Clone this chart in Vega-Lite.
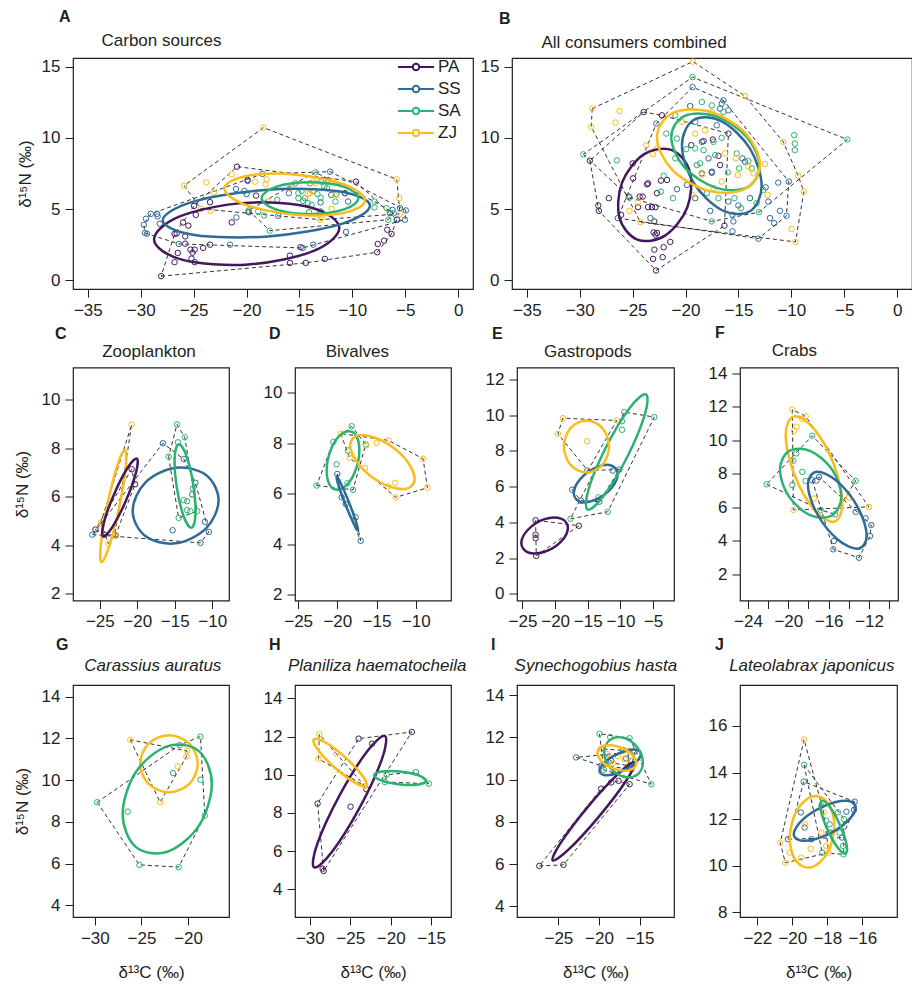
{
"$schema":"https://vega.github.io/schema/vega-lite/v6.json",
"padding":{"left":12,"top":8,"right":0,"bottom":0},
"datasets":{
"pts":[
{"p":"A","s":"PA","x":-28.07,"y":0.3},{"p":"A","s":"PA","x":-26.8,"y":1.28},{"p":"A","s":"PA","x":-26.5,"y":1.93},{"p":"A","s":"PA","x":-26.8,"y":3.26},{"p":"A","s":"PA","x":-26.6,"y":3.3},{"p":"A","s":"PA","x":-26,"y":4.07},{"p":"A","s":"PA","x":-25.5,"y":3.84},{"p":"A","s":"PA","x":-25.8,"y":3.09},{"p":"A","s":"PA","x":-25.8,"y":2.58},{"p":"A","s":"PA","x":-25.3,"y":2.16},{"p":"A","s":"PA","x":-25.1,"y":1.95},{"p":"A","s":"PA","x":-24.9,"y":2.16},{"p":"A","s":"PA","x":-25.2,"y":1.53},{"p":"A","s":"PA","x":-24.9,"y":1.28},{"p":"A","s":"PA","x":-24.96,"y":5.23},{"p":"A","s":"PA","x":-24.8,"y":4.6},{"p":"A","s":"PA","x":-24.1,"y":2.28},{"p":"A","s":"PA","x":-23.45,"y":5.49},{"p":"A","s":"PA","x":-23.45,"y":2.51},{"p":"A","s":"PA","x":-21.4,"y":4.07},{"p":"A","s":"PA","x":-20.9,"y":7.98},{"p":"A","s":"PA","x":-19.9,"y":7.05},{"p":"A","s":"PA","x":-19.8,"y":4.79},{"p":"A","s":"PA","x":-19.1,"y":5.95},{"p":"A","s":"PA","x":-15.9,"y":1.74},{"p":"A","s":"PA","x":-15.9,"y":1.23},{"p":"A","s":"PA","x":-14.9,"y":2.33},{"p":"A","s":"PA","x":-14.4,"y":1.23},{"p":"A","s":"PA","x":-12.6,"y":1.51},{"p":"A","s":"PA","x":-10.7,"y":6.12},{"p":"A","s":"PA","x":-9.66,"y":6.93},{"p":"A","s":"PA","x":-7.65,"y":1.98},{"p":"A","s":"PA","x":-7.6,"y":2.56},{"p":"A","s":"PA","x":-7,"y":2.79},{"p":"A","s":"PA","x":-6.7,"y":3.56},{"p":"A","s":"PA","x":-6.3,"y":3.26},{"p":"A","s":"PA","x":-5.8,"y":4.26},
{"p":"A","s":"SS","x":-29.7,"y":3.9},{"p":"A","s":"SS","x":-29.5,"y":4.33},{"p":"A","s":"SS","x":-29.6,"y":3.33},{"p":"A","s":"SS","x":-29.4,"y":3.28},{"p":"A","s":"SS","x":-29.05,"y":4.67},{"p":"A","s":"SS","x":-28.45,"y":4.67},{"p":"A","s":"SS","x":-28.4,"y":4.49},{"p":"A","s":"SS","x":-28.2,"y":3.98},{"p":"A","s":"SS","x":-26.4,"y":2.56},{"p":"A","s":"SS","x":-21.56,"y":2.51},{"p":"A","s":"SS","x":-20.96,"y":4.42},{"p":"A","s":"SS","x":-21,"y":6.42},{"p":"A","s":"SS","x":-20.2,"y":6.28},{"p":"A","s":"SS","x":-20,"y":6.05},{"p":"A","s":"SS","x":-19.9,"y":6.98},{"p":"A","s":"SS","x":-18.5,"y":7.47},{"p":"A","s":"SS","x":-17,"y":4.53},{"p":"A","s":"SS","x":-16,"y":6.12},{"p":"A","s":"SS","x":-14.7,"y":2.28},{"p":"A","s":"SS","x":-13.7,"y":2.51},{"p":"A","s":"SS","x":-13,"y":4.84},{"p":"A","s":"SS","x":-13,"y":5.47},{"p":"A","s":"SS","x":-12.1,"y":7.63},{"p":"A","s":"SS","x":-12,"y":6},{"p":"A","s":"SS","x":-10.6,"y":3.4},{"p":"A","s":"SS","x":-10.4,"y":5.53},{"p":"A","s":"SS","x":-6.45,"y":4.72},{"p":"A","s":"SS","x":-6.2,"y":4.95},{"p":"A","s":"SS","x":-5.76,"y":4.26},{"p":"A","s":"SS","x":-5.5,"y":5.07},{"p":"A","s":"SS","x":-4.94,"y":4.91},{"p":"A","s":"SS","x":-5.03,"y":4.26},
{"p":"A","s":"SA","x":-19.8,"y":4.91},{"p":"A","s":"SA","x":-18.9,"y":4.84},{"p":"A","s":"SA","x":-18.35,"y":4.56},{"p":"A","s":"SA","x":-17.8,"y":3.49},{"p":"A","s":"SA","x":-17.1,"y":5.65},{"p":"A","s":"SA","x":-15.4,"y":6.81},{"p":"A","s":"SA","x":-15.1,"y":5.77},{"p":"A","s":"SA","x":-15.1,"y":6.12},{"p":"A","s":"SA","x":-14.8,"y":6.28},{"p":"A","s":"SA","x":-14.65,"y":5.58},{"p":"A","s":"SA","x":-14.5,"y":5.77},{"p":"A","s":"SA","x":-14.2,"y":5.42},{"p":"A","s":"SA","x":-14.1,"y":4.79},{"p":"A","s":"SA","x":-14,"y":6.81},{"p":"A","s":"SA","x":-13.85,"y":5.3},{"p":"A","s":"SA","x":-13.7,"y":6.28},{"p":"A","s":"SA","x":-13.5,"y":7.58},{"p":"A","s":"SA","x":-13.3,"y":6.05},{"p":"A","s":"SA","x":-13,"y":5.81},{"p":"A","s":"SA","x":-12.95,"y":6.93},{"p":"A","s":"SA","x":-12.65,"y":6.58},{"p":"A","s":"SA","x":-12.4,"y":6.47},{"p":"A","s":"SA","x":-12.3,"y":7.05},{"p":"A","s":"SA","x":-11.6,"y":5.53},{"p":"A","s":"SA","x":-11.5,"y":6.05},{"p":"A","s":"SA","x":-7.9,"y":5.53},{"p":"A","s":"SA","x":-7.9,"y":5.12},{"p":"A","s":"SA","x":-6.77,"y":5.07},{"p":"A","s":"SA","x":-6.6,"y":4.26},{"p":"A","s":"SA","x":-6.1,"y":4.72},
{"p":"A","s":"ZJ","x":-25.9,"y":6.65},{"p":"A","s":"ZJ","x":-24.3,"y":5.02},{"p":"A","s":"ZJ","x":-23.8,"y":6.88},{"p":"A","s":"ZJ","x":-23.4,"y":4.88},{"p":"A","s":"ZJ","x":-23.1,"y":6.16},{"p":"A","s":"ZJ","x":-21.4,"y":7.44},{"p":"A","s":"ZJ","x":-19.2,"y":6.93},{"p":"A","s":"ZJ","x":-18.4,"y":10.72},{"p":"A","s":"ZJ","x":-18.2,"y":6.74},{"p":"A","s":"ZJ","x":-18.1,"y":7.09},{"p":"A","s":"ZJ","x":-18,"y":5.53},{"p":"A","s":"ZJ","x":-15.9,"y":6.51},{"p":"A","s":"ZJ","x":-14.2,"y":6.05},{"p":"A","s":"ZJ","x":-14,"y":6.12},{"p":"A","s":"ZJ","x":-13.7,"y":6.93},{"p":"A","s":"ZJ","x":-13.5,"y":6.81},{"p":"A","s":"ZJ","x":-13.06,"y":4.26},{"p":"A","s":"ZJ","x":-12.9,"y":4.37},{"p":"A","s":"ZJ","x":-11.96,"y":5.02},{"p":"A","s":"ZJ","x":-11.96,"y":6.98},{"p":"A","s":"ZJ","x":-11.6,"y":5.95},{"p":"A","s":"ZJ","x":-5.8,"y":7.09},{"p":"A","s":"ZJ","x":-5.57,"y":5.77},{"p":"A","s":"ZJ","x":-5.5,"y":4.67},
{"p":"B","s":"PA","x":-29.04,"y":8.4},{"p":"B","s":"PA","x":-28.25,"y":5.26},{"p":"B","s":"PA","x":-28.19,"y":4.88},{"p":"B","s":"PA","x":-27.25,"y":5.77},{"p":"B","s":"PA","x":-26.09,"y":4.6},{"p":"B","s":"PA","x":-25.36,"y":5.88},{"p":"B","s":"PA","x":-24.99,"y":8.21},{"p":"B","s":"PA","x":-24.96,"y":7.16},{"p":"B","s":"PA","x":-24.49,"y":5.14},{"p":"B","s":"PA","x":-24.33,"y":5.88},{"p":"B","s":"PA","x":-24.05,"y":5.88},{"p":"B","s":"PA","x":-23.95,"y":11.81},{"p":"B","s":"PA","x":-23.64,"y":6.74},{"p":"B","s":"PA","x":-23.54,"y":6.81},{"p":"B","s":"PA","x":-23.54,"y":5.14},{"p":"B","s":"PA","x":-23.17,"y":5.14},{"p":"B","s":"PA","x":-22.85,"y":5.14},{"p":"B","s":"PA","x":-22.95,"y":4.14},{"p":"B","s":"PA","x":-23.01,"y":3.37},{"p":"B","s":"PA","x":-22.85,"y":3.21},{"p":"B","s":"PA","x":-22.7,"y":3.33},{"p":"B","s":"PA","x":-22.95,"y":2.16},{"p":"B","s":"PA","x":-23.07,"y":1.51},{"p":"B","s":"PA","x":-22.79,"y":0.7},{"p":"B","s":"PA","x":-22.16,"y":1.63},{"p":"B","s":"PA","x":-22.07,"y":2.33},{"p":"B","s":"PA","x":-21.44,"y":2.7},{"p":"B","s":"PA","x":-22.7,"y":6.12},{"p":"B","s":"PA","x":-22.32,"y":7},{"p":"B","s":"PA","x":-22.23,"y":11.58},{"p":"B","s":"PA","x":-21.75,"y":7.05},{"p":"B","s":"PA","x":-19.46,"y":9.49},{"p":"B","s":"PA","x":-18.3,"y":9.77},{"p":"B","s":"PA","x":-17.42,"y":9.88},{"p":"B","s":"PA","x":-15.95,"y":10.3},{"p":"B","s":"PA","x":-16.32,"y":3.84},{"p":"B","s":"PA","x":-17.52,"y":7.56},{"p":"B","s":"PA","x":-16.73,"y":8.09},{"p":"B","s":"PA","x":-16.89,"y":8.74},
{"p":"B","s":"SS","x":-26.4,"y":4.37},{"p":"B","s":"SS","x":-22.76,"y":11},{"p":"B","s":"SS","x":-23.32,"y":4.37},{"p":"B","s":"SS","x":-20.81,"y":6.4},{"p":"B","s":"SS","x":-19.87,"y":6.7},{"p":"B","s":"SS","x":-19.34,"y":13.56},{"p":"B","s":"SS","x":-19.56,"y":12.23},{"p":"B","s":"SS","x":-19.09,"y":5.77},{"p":"B","s":"SS","x":-18.46,"y":9.72},{"p":"B","s":"SS","x":-17.67,"y":4.88},{"p":"B","s":"SS","x":-17.52,"y":7.63},{"p":"B","s":"SS","x":-17.05,"y":10.88},{"p":"B","s":"SS","x":-16.73,"y":12.05},{"p":"B","s":"SS","x":-16.42,"y":12.63},{"p":"B","s":"SS","x":-16.58,"y":12.4},{"p":"B","s":"SS","x":-15.95,"y":11.93},{"p":"B","s":"SS","x":-15.57,"y":4.6},{"p":"B","s":"SS","x":-15.48,"y":4.14},{"p":"B","s":"SS","x":-15.57,"y":3.44},{"p":"B","s":"SS","x":-15.01,"y":5.26},{"p":"B","s":"SS","x":-14.63,"y":8.56},{"p":"B","s":"SS","x":-14.38,"y":8.33},{"p":"B","s":"SS","x":-13.91,"y":5.77},{"p":"B","s":"SS","x":-13.12,"y":2.93},{"p":"B","s":"SS","x":-12.43,"y":6.53},{"p":"B","s":"SS","x":-12.18,"y":5.53},{"p":"B","s":"SS","x":-12.02,"y":4.37},{"p":"B","s":"SS","x":-11.62,"y":4.02},{"p":"B","s":"SS","x":-11.24,"y":6.86},{"p":"B","s":"SS","x":-11.08,"y":4.88},{"p":"B","s":"SS","x":-10.46,"y":4.53},{"p":"B","s":"SS","x":-10.24,"y":6.93},{"p":"B","s":"SS","x":-15.95,"y":5.53},{"p":"B","s":"SS","x":-17.83,"y":8.56},{"p":"B","s":"SS","x":-18.46,"y":7.51},
{"p":"B","s":"SA","x":-29.66,"y":8.84},{"p":"B","s":"SA","x":-26.49,"y":8.42},{"p":"B","s":"SA","x":-25.27,"y":5.81},{"p":"B","s":"SA","x":-22.32,"y":6.23},{"p":"B","s":"SA","x":-22.07,"y":7.35},{"p":"B","s":"SA","x":-21.82,"y":10.3},{"p":"B","s":"SA","x":-21.19,"y":5.77},{"p":"B","s":"SA","x":-20.97,"y":11.58},{"p":"B","s":"SA","x":-20.81,"y":9.95},{"p":"B","s":"SA","x":-19.93,"y":9.21},{"p":"B","s":"SA","x":-19.34,"y":14.26},{"p":"B","s":"SA","x":-19.09,"y":9.26},{"p":"B","s":"SA","x":-18.93,"y":8.09},{"p":"B","s":"SA","x":-18.62,"y":8.21},{"p":"B","s":"SA","x":-18.46,"y":12.51},{"p":"B","s":"SA","x":-18.3,"y":9.14},{"p":"B","s":"SA","x":-17.99,"y":6.12},{"p":"B","s":"SA","x":-17.52,"y":4.14},{"p":"B","s":"SA","x":-17.36,"y":9.72},{"p":"B","s":"SA","x":-17.2,"y":8.79},{"p":"B","s":"SA","x":-16.89,"y":5.77},{"p":"B","s":"SA","x":-16.58,"y":10},{"p":"B","s":"SA","x":-16.01,"y":7.58},{"p":"B","s":"SA","x":-15.38,"y":5.77},{"p":"B","s":"SA","x":-15.16,"y":8.91},{"p":"B","s":"SA","x":-14.94,"y":7.86},{"p":"B","s":"SA","x":-14.75,"y":5.07},{"p":"B","s":"SA","x":-14.06,"y":8.37},{"p":"B","s":"SA","x":-13.75,"y":7.86},{"p":"B","s":"SA","x":-13.28,"y":5.42},{"p":"B","s":"SA","x":-13.06,"y":4.79},{"p":"B","s":"SA","x":-12.65,"y":6.35},{"p":"B","s":"SA","x":-9.73,"y":10.19},{"p":"B","s":"SA","x":-9.67,"y":9.6},{"p":"B","s":"SA","x":-9.67,"y":9.14},{"p":"B","s":"SA","x":-4.71,"y":9.88},{"p":"B","s":"SA","x":-19.09,"y":11.12},{"p":"B","s":"SA","x":-17.52,"y":12.28},{"p":"B","s":"SA","x":-16.42,"y":11.81},{"p":"B","s":"SA","x":-20.97,"y":8.56},
{"p":"B","s":"ZJ","x":-28.82,"y":12.05},{"p":"B","s":"ZJ","x":-28.91,"y":10.77},{"p":"B","s":"ZJ","x":-26.62,"y":11.07},{"p":"B","s":"ZJ","x":-26.24,"y":11.88},{"p":"B","s":"ZJ","x":-25.3,"y":4.88},{"p":"B","s":"ZJ","x":-24.52,"y":5.47},{"p":"B","s":"ZJ","x":-24.27,"y":4.09},{"p":"B","s":"ZJ","x":-23.7,"y":9.49},{"p":"B","s":"ZJ","x":-23.07,"y":8.86},{"p":"B","s":"ZJ","x":-22.7,"y":9.26},{"p":"B","s":"ZJ","x":-19.31,"y":15.35},{"p":"B","s":"ZJ","x":-19.34,"y":6},{"p":"B","s":"ZJ","x":-18.46,"y":7.4},{"p":"B","s":"ZJ","x":-19.09,"y":10.3},{"p":"B","s":"ZJ","x":-18.15,"y":10.53},{"p":"B","s":"ZJ","x":-17.36,"y":6.47},{"p":"B","s":"ZJ","x":-16.58,"y":6.93},{"p":"B","s":"ZJ","x":-15.26,"y":8.56},{"p":"B","s":"ZJ","x":-15.07,"y":7.4},{"p":"B","s":"ZJ","x":-14.38,"y":12.93},{"p":"B","s":"ZJ","x":-14.06,"y":7.98},{"p":"B","s":"ZJ","x":-13.59,"y":7.51},{"p":"B","s":"ZJ","x":-12.5,"y":8.16},{"p":"B","s":"ZJ","x":-12.24,"y":6},{"p":"B","s":"ZJ","x":-10.77,"y":9.72},{"p":"B","s":"ZJ","x":-9.98,"y":3.6},{"p":"B","s":"ZJ","x":-9.61,"y":2.7},{"p":"B","s":"ZJ","x":-9.36,"y":7.35},{"p":"B","s":"ZJ","x":-8.82,"y":6.23},{"p":"B","s":"ZJ","x":-16.26,"y":8.91},{"p":"B","s":"ZJ","x":-20.34,"y":11.12},{"p":"B","s":"ZJ","x":-17.52,"y":11.81},
{"p":"C","s":"PA","x":-25.58,"y":4.65},{"p":"C","s":"PA","x":-24.42,"y":4.44},{"p":"C","s":"PA","x":-22.9,"y":4.41},{"p":"C","s":"PA","x":-20.75,"y":7.14},{"p":"C","s":"PA","x":-20.3,"y":6.52},
{"p":"C","s":"SS","x":-25.99,"y":4.44},{"p":"C","s":"SS","x":-16.58,"y":8.21},{"p":"C","s":"SS","x":-13.8,"y":7.56},{"p":"C","s":"SS","x":-12.68,"y":6.1},{"p":"C","s":"SS","x":-12.24,"y":6.58},{"p":"C","s":"SS","x":-11.57,"y":4.1},{"p":"C","s":"SS","x":-10.98,"y":4.97},{"p":"C","s":"SS","x":-10.45,"y":4.55},{"p":"C","s":"SS","x":-15.28,"y":4.62},
{"p":"C","s":"SA","x":-14.7,"y":8.99},{"p":"C","s":"SA","x":-13.67,"y":8.46},{"p":"C","s":"SA","x":-15.82,"y":7.66},{"p":"C","s":"SA","x":-14.57,"y":8.25},{"p":"C","s":"SA","x":-14.48,"y":5.13},{"p":"C","s":"SA","x":-13.8,"y":5.86},{"p":"C","s":"SA","x":-13.36,"y":5.82},{"p":"C","s":"SA","x":-13.36,"y":5.45},{"p":"C","s":"SA","x":-12.91,"y":5.41},{"p":"C","s":"SA","x":-12.6,"y":6.34},{"p":"C","s":"SA","x":-12.01,"y":5.41},
{"p":"C","s":"ZJ","x":-20.75,"y":8.99},{"p":"C","s":"ZJ","x":-24.87,"y":4.94},{"p":"C","s":"ZJ","x":-23.88,"y":4.07},{"p":"C","s":"ZJ","x":-22.98,"y":4.44},
{"p":"D","s":"SS","x":-20,"y":6.78},{"p":"D","s":"SS","x":-19.45,"y":5.85},{"p":"D","s":"SS","x":-18.94,"y":5.59},{"p":"D","s":"SS","x":-17.66,"y":5.06},{"p":"D","s":"SS","x":-17.02,"y":4.13},
{"p":"D","s":"SA","x":-22.64,"y":6.32},{"p":"D","s":"SA","x":-20.51,"y":8.05},{"p":"D","s":"SA","x":-20.09,"y":7.16},{"p":"D","s":"SA","x":-18.64,"y":7.71},{"p":"D","s":"SA","x":-18.17,"y":8.67},{"p":"D","s":"SA","x":-18,"y":6.15},{"p":"D","s":"SA","x":-18.72,"y":6.41},{"p":"D","s":"SA","x":-16.38,"y":7.95},
{"p":"D","s":"ZJ","x":-19.57,"y":8.38},{"p":"D","s":"ZJ","x":-18.43,"y":7.42},{"p":"D","s":"ZJ","x":-16.3,"y":7.91},{"p":"D","s":"ZJ","x":-16.47,"y":7.02},{"p":"D","s":"ZJ","x":-14.98,"y":8.01},{"p":"D","s":"ZJ","x":-13.49,"y":8.11},{"p":"D","s":"ZJ","x":-12.64,"y":6.43},{"p":"D","s":"ZJ","x":-13.53,"y":6.28},{"p":"D","s":"ZJ","x":-12.55,"y":5.85},{"p":"D","s":"ZJ","x":-9.06,"y":7.38},{"p":"D","s":"ZJ","x":-8.51,"y":6.23},
{"p":"E","s":"PA","x":-22.99,"y":4.12},{"p":"E","s":"PA","x":-22.99,"y":3.3},{"p":"E","s":"PA","x":-22.99,"y":3.11},{"p":"E","s":"PA","x":-22.89,"y":2.12},{"p":"E","s":"PA","x":-16.37,"y":3.81},
{"p":"E","s":"SS","x":-17.39,"y":5.83},{"p":"E","s":"SS","x":-16.02,"y":5.21},{"p":"E","s":"SS","x":-13.22,"y":5.16},{"p":"E","s":"SS","x":-11.18,"y":6.9},{"p":"E","s":"SS","x":-10.17,"y":6.96},{"p":"E","s":"SS","x":-15.1,"y":6.9},
{"p":"E","s":"SA","x":-17.65,"y":4.2},{"p":"E","s":"SA","x":-11.95,"y":4.59},{"p":"E","s":"SA","x":-9.76,"y":9.67},{"p":"E","s":"SA","x":-9.76,"y":9.19},{"p":"E","s":"SA","x":-9.4,"y":10.18},{"p":"E","s":"SA","x":-4.82,"y":9.9},{"p":"E","s":"SA","x":-13.37,"y":5.4},
{"p":"E","s":"ZJ","x":-18.82,"y":9.84},{"p":"E","s":"ZJ","x":-19.58,"y":8.96},{"p":"E","s":"ZJ","x":-15.1,"y":8.55},{"p":"E","s":"ZJ","x":-15,"y":6.9},{"p":"E","s":"ZJ","x":-10.57,"y":9.71},
{"p":"F","s":"SS","x":-17.62,"y":7.62},{"p":"F","s":"SS","x":-16.96,"y":7.82},{"p":"F","s":"SS","x":-15.54,"y":3.5},{"p":"F","s":"SS","x":-15.47,"y":4},{"p":"F","s":"SS","x":-12.99,"y":3},{"p":"F","s":"SS","x":-13.32,"y":5.73},{"p":"F","s":"SS","x":-12.33,"y":5.35},{"p":"F","s":"SS","x":-11.77,"y":4.95},{"p":"F","s":"SS","x":-11.9,"y":4.29},{"p":"F","s":"SS","x":-17.2,"y":7.6},
{"p":"F","s":"SA","x":-22.15,"y":7.38},{"p":"F","s":"SA","x":-19.6,"y":7.34},{"p":"F","s":"SA","x":-19.5,"y":8.78},{"p":"F","s":"SA","x":-19.21,"y":9.22},{"p":"F","s":"SA","x":-18.61,"y":8.12},{"p":"F","s":"SA","x":-18.28,"y":7.58},{"p":"F","s":"SA","x":-17.62,"y":10.27},{"p":"F","s":"SA","x":-16.79,"y":5.85},{"p":"F","s":"SA","x":-15.37,"y":5.59},{"p":"F","s":"SA","x":-13.32,"y":7.58},
{"p":"F","s":"ZJ","x":-19.6,"y":11.83},{"p":"F","s":"ZJ","x":-19.44,"y":10.57},{"p":"F","s":"ZJ","x":-19.17,"y":10.81},{"p":"F","s":"ZJ","x":-18.61,"y":11.27},{"p":"F","s":"ZJ","x":-18.28,"y":11.43},{"p":"F","s":"ZJ","x":-19.5,"y":5.85},{"p":"F","s":"ZJ","x":-17.45,"y":6.53},{"p":"F","s":"ZJ","x":-13.98,"y":6.59},{"p":"F","s":"ZJ","x":-12,"y":6.03},
{"p":"G","s":"SA","x":-29.75,"y":8.94},{"p":"G","s":"SA","x":-26.47,"y":8.49},{"p":"G","s":"SA","x":-25.22,"y":5.94},{"p":"G","s":"SA","x":-21.01,"y":5.83},{"p":"G","s":"SA","x":-21.62,"y":10.34},{"p":"G","s":"SA","x":-20.9,"y":11.68},{"p":"G","s":"SA","x":-18.67,"y":12.09},{"p":"G","s":"SA","x":-18.67,"y":10.02},{"p":"G","s":"SA","x":-18.2,"y":8.3},
{"p":"G","s":"ZJ","x":-26.19,"y":11.93},{"p":"G","s":"ZJ","x":-22.99,"y":8.94},{"p":"G","s":"ZJ","x":-21.12,"y":10.66},{"p":"G","s":"ZJ","x":-20.18,"y":11.12},{"p":"G","s":"ZJ","x":-20.11,"y":11.4},
{"p":"H","s":"PA","x":-29.04,"y":8.49},{"p":"H","s":"PA","x":-28.42,"y":5.08},{"p":"H","s":"PA","x":-28.29,"y":4.96},{"p":"H","s":"PA","x":-24.96,"y":8.33},{"p":"H","s":"PA","x":-23.96,"y":11.89},{"p":"H","s":"PA","x":-22.29,"y":11.63},{"p":"H","s":"PA","x":-23,"y":9.24},{"p":"H","s":"PA","x":-17.38,"y":12.24},
{"p":"H","s":"ZJ","x":-28.83,"y":12.12},{"p":"H","s":"ZJ","x":-28.92,"y":10.84},{"p":"H","s":"ZJ","x":-26.75,"y":11.12},{"p":"H","s":"ZJ","x":-23.2,"y":9.41},
{"p":"H","s":"SA","x":-20.71,"y":9.62},{"p":"H","s":"SA","x":-16.88,"y":10.14},{"p":"H","s":"SA","x":-15.29,"y":9.53},{"p":"H","s":"SA","x":-20.5,"y":10},
{"p":"I","s":"PA","x":-27.35,"y":5.91},{"p":"I","s":"PA","x":-24.38,"y":5.96},{"p":"I","s":"PA","x":-19.73,"y":9.57},{"p":"I","s":"PA","x":-18.5,"y":9.86},{"p":"I","s":"PA","x":-17.59,"y":9.94},{"p":"I","s":"PA","x":-16.23,"y":9.78},
{"p":"I","s":"SS","x":-22.82,"y":11.05},{"p":"I","s":"SS","x":-19.73,"y":10.66},{"p":"I","s":"SS","x":-18.5,"y":10.89},{"p":"I","s":"SS","x":-16.65,"y":11},{"p":"I","s":"SS","x":-15.62,"y":11.32},{"p":"I","s":"SS","x":-16.03,"y":10.5},
{"p":"I","s":"SA","x":-19.94,"y":12.17},{"p":"I","s":"SA","x":-18.62,"y":12.01},{"p":"I","s":"SA","x":-16.23,"y":11.96},{"p":"I","s":"SA","x":-13.56,"y":9.78},{"p":"I","s":"SA","x":-19.4,"y":10.46},{"p":"I","s":"SA","x":-17,"y":11.4},{"p":"I","s":"SA","x":-15.9,"y":10.9},
{"p":"I","s":"ZJ","x":-19.73,"y":11.45},{"p":"I","s":"ZJ","x":-18.99,"y":11.21},{"p":"I","s":"ZJ","x":-17.67,"y":11.1},{"p":"I","s":"ZJ","x":-16.85,"y":10.97},{"p":"I","s":"ZJ","x":-16.32,"y":10.66},{"p":"I","s":"ZJ","x":-18.29,"y":10.78},{"p":"I","s":"ZJ","x":-16.44,"y":11.37},
{"p":"J","s":"SS","x":-20.25,"y":11.14},{"p":"J","s":"SS","x":-19.35,"y":13.61},{"p":"J","s":"SS","x":-19.3,"y":11.64},{"p":"J","s":"SS","x":-18.91,"y":11.14},{"p":"J","s":"SS","x":-19.52,"y":12.29},{"p":"J","s":"SS","x":-17.81,"y":11.42},{"p":"J","s":"SS","x":-16.91,"y":12.32},{"p":"J","s":"SS","x":-16.44,"y":12.75},{"p":"J","s":"SS","x":-16.48,"y":12.4},{"p":"J","s":"SS","x":-17.16,"y":11.21},
{"p":"J","s":"SA","x":-19.33,"y":14.33},{"p":"J","s":"SA","x":-18.34,"y":12.58},{"p":"J","s":"SA","x":-18.06,"y":11.93},{"p":"J","s":"SA","x":-17.87,"y":11.78},{"p":"J","s":"SA","x":-17.39,"y":12.29},{"p":"J","s":"SA","x":-17.05,"y":12},{"p":"J","s":"SA","x":-17.3,"y":11.42},{"p":"J","s":"SA","x":-17.1,"y":10.85},{"p":"J","s":"SA","x":-17.07,"y":10.49},{"p":"J","s":"SA","x":-18.29,"y":10.56},
{"p":"J","s":"ZJ","x":-19.33,"y":15.42},{"p":"J","s":"ZJ","x":-20.69,"y":10.99},{"p":"J","s":"ZJ","x":-20.15,"y":10.56},{"p":"J","s":"ZJ","x":-20.4,"y":10.13},{"p":"J","s":"ZJ","x":-19.49,"y":10.35},{"p":"J","s":"ZJ","x":-19.26,"y":11.78},{"p":"J","s":"ZJ","x":-18.95,"y":10.73},{"p":"J","s":"ZJ","x":-18.21,"y":12.29},{"p":"J","s":"ZJ","x":-18.06,"y":10.85},{"p":"J","s":"ZJ","x":-18.34,"y":11.42},{"p":"J","s":"ZJ","x":-17.92,"y":10.56}
],
"hul":[
{"p":"A","s":"PA","x":-28.07,"y":0.3},{"p":"A","s":"PA","x":-14.4,"y":1.23},{"p":"A","s":"PA","x":-7.65,"y":1.98},{"p":"A","s":"PA","x":-6.3,"y":3.26},{"p":"A","s":"PA","x":-5.8,"y":4.26},{"p":"A","s":"PA","x":-9.66,"y":6.93},{"p":"A","s":"PA","x":-20.9,"y":7.98},{"p":"A","s":"PA","x":-24.96,"y":5.23},{"p":"A","s":"PA","x":-26.8,"y":3.26},
{"p":"A","s":"SS","x":-29.6,"y":3.33},{"p":"A","s":"SS","x":-26.4,"y":2.56},{"p":"A","s":"SS","x":-14.7,"y":2.28},{"p":"A","s":"SS","x":-5.03,"y":4.26},{"p":"A","s":"SS","x":-4.94,"y":4.91},{"p":"A","s":"SS","x":-12.1,"y":7.63},{"p":"A","s":"SS","x":-18.5,"y":7.47},{"p":"A","s":"SS","x":-29.05,"y":4.67},{"p":"A","s":"SS","x":-29.7,"y":3.9},
{"p":"A","s":"SA","x":-19.8,"y":4.91},{"p":"A","s":"SA","x":-17.8,"y":3.49},{"p":"A","s":"SA","x":-6.6,"y":4.26},{"p":"A","s":"SA","x":-6.1,"y":4.72},{"p":"A","s":"SA","x":-7.9,"y":5.53},{"p":"A","s":"SA","x":-13.5,"y":7.58},{"p":"A","s":"SA","x":-15.4,"y":6.81},
{"p":"A","s":"ZJ","x":-25.9,"y":6.65},{"p":"A","s":"ZJ","x":-24.3,"y":5.02},{"p":"A","s":"ZJ","x":-13.06,"y":4.26},{"p":"A","s":"ZJ","x":-5.5,"y":4.67},{"p":"A","s":"ZJ","x":-5.8,"y":7.09},{"p":"A","s":"ZJ","x":-18.4,"y":10.72},
{"p":"B","s":"PA","x":-29.04,"y":8.4},{"p":"B","s":"PA","x":-28.19,"y":4.88},{"p":"B","s":"PA","x":-22.79,"y":0.7},{"p":"B","s":"PA","x":-16.32,"y":3.84},{"p":"B","s":"PA","x":-15.95,"y":10.3},{"p":"B","s":"PA","x":-22.23,"y":11.58},{"p":"B","s":"PA","x":-23.95,"y":11.81},
{"p":"B","s":"SS","x":-26.4,"y":4.37},{"p":"B","s":"SS","x":-13.12,"y":2.93},{"p":"B","s":"SS","x":-10.46,"y":4.53},{"p":"B","s":"SS","x":-10.24,"y":6.93},{"p":"B","s":"SS","x":-16.42,"y":12.63},{"p":"B","s":"SS","x":-19.34,"y":13.56},{"p":"B","s":"SS","x":-22.76,"y":11},
{"p":"B","s":"SA","x":-29.66,"y":8.84},{"p":"B","s":"SA","x":-25.27,"y":5.81},{"p":"B","s":"SA","x":-17.52,"y":4.14},{"p":"B","s":"SA","x":-13.06,"y":4.79},{"p":"B","s":"SA","x":-4.71,"y":9.88},{"p":"B","s":"SA","x":-19.34,"y":14.26},
{"p":"B","s":"ZJ","x":-28.82,"y":12.05},{"p":"B","s":"ZJ","x":-28.91,"y":10.77},{"p":"B","s":"ZJ","x":-24.27,"y":4.09},{"p":"B","s":"ZJ","x":-9.61,"y":2.7},{"p":"B","s":"ZJ","x":-8.82,"y":6.23},{"p":"B","s":"ZJ","x":-9.36,"y":7.35},{"p":"B","s":"ZJ","x":-10.77,"y":9.72},{"p":"B","s":"ZJ","x":-14.38,"y":12.93},{"p":"B","s":"ZJ","x":-19.31,"y":15.35},
{"p":"C","s":"PA","x":-25.58,"y":4.65},{"p":"C","s":"PA","x":-24.42,"y":4.44},{"p":"C","s":"PA","x":-22.9,"y":4.41},{"p":"C","s":"PA","x":-20.3,"y":6.52},{"p":"C","s":"PA","x":-20.75,"y":7.14},
{"p":"C","s":"SS","x":-25.99,"y":4.44},{"p":"C","s":"SS","x":-11.57,"y":4.1},{"p":"C","s":"SS","x":-10.45,"y":4.55},{"p":"C","s":"SS","x":-12.24,"y":6.58},{"p":"C","s":"SS","x":-13.8,"y":7.56},{"p":"C","s":"SS","x":-16.58,"y":8.21},
{"p":"C","s":"SA","x":-15.82,"y":7.66},{"p":"C","s":"SA","x":-14.48,"y":5.13},{"p":"C","s":"SA","x":-12.01,"y":5.41},{"p":"C","s":"SA","x":-13.67,"y":8.46},{"p":"C","s":"SA","x":-14.7,"y":8.99},
{"p":"C","s":"ZJ","x":-24.87,"y":4.94},{"p":"C","s":"ZJ","x":-23.88,"y":4.07},{"p":"C","s":"ZJ","x":-22.98,"y":4.44},{"p":"C","s":"ZJ","x":-20.75,"y":8.99},
{"p":"D","s":"SS","x":-20,"y":6.78},{"p":"D","s":"SS","x":-19.45,"y":5.85},{"p":"D","s":"SS","x":-17.02,"y":4.13},{"p":"D","s":"SS","x":-17.66,"y":5.06},
{"p":"D","s":"SA","x":-22.64,"y":6.32},{"p":"D","s":"SA","x":-18,"y":6.15},{"p":"D","s":"SA","x":-16.38,"y":7.95},{"p":"D","s":"SA","x":-18.17,"y":8.67},{"p":"D","s":"SA","x":-20.51,"y":8.05},
{"p":"D","s":"ZJ","x":-19.57,"y":8.38},{"p":"D","s":"ZJ","x":-18.43,"y":7.42},{"p":"D","s":"ZJ","x":-12.55,"y":5.85},{"p":"D","s":"ZJ","x":-8.51,"y":6.23},{"p":"D","s":"ZJ","x":-9.06,"y":7.38},{"p":"D","s":"ZJ","x":-13.49,"y":8.11},
{"p":"E","s":"PA","x":-22.99,"y":4.12},{"p":"E","s":"PA","x":-22.89,"y":2.12},{"p":"E","s":"PA","x":-16.37,"y":3.81},
{"p":"E","s":"SS","x":-17.39,"y":5.83},{"p":"E","s":"SS","x":-16.02,"y":5.21},{"p":"E","s":"SS","x":-13.22,"y":5.16},{"p":"E","s":"SS","x":-10.17,"y":6.96},{"p":"E","s":"SS","x":-15.1,"y":6.9},
{"p":"E","s":"SA","x":-17.65,"y":4.2},{"p":"E","s":"SA","x":-11.95,"y":4.59},{"p":"E","s":"SA","x":-4.82,"y":9.9},{"p":"E","s":"SA","x":-9.4,"y":10.18},
{"p":"E","s":"ZJ","x":-18.82,"y":9.84},{"p":"E","s":"ZJ","x":-19.58,"y":8.96},{"p":"E","s":"ZJ","x":-15,"y":6.9},{"p":"E","s":"ZJ","x":-10.57,"y":9.71},
{"p":"F","s":"SS","x":-17.62,"y":7.62},{"p":"F","s":"SS","x":-15.54,"y":3.5},{"p":"F","s":"SS","x":-12.99,"y":3},{"p":"F","s":"SS","x":-11.9,"y":4.29},{"p":"F","s":"SS","x":-11.77,"y":4.95},{"p":"F","s":"SS","x":-16.96,"y":7.82},
{"p":"F","s":"SA","x":-22.15,"y":7.38},{"p":"F","s":"SA","x":-16.79,"y":5.85},{"p":"F","s":"SA","x":-15.37,"y":5.59},{"p":"F","s":"SA","x":-13.32,"y":7.58},{"p":"F","s":"SA","x":-17.62,"y":10.27},
{"p":"F","s":"ZJ","x":-19.6,"y":11.83},{"p":"F","s":"ZJ","x":-19.5,"y":5.85},{"p":"F","s":"ZJ","x":-12,"y":6.03},{"p":"F","s":"ZJ","x":-18.28,"y":11.43},
{"p":"G","s":"SA","x":-29.75,"y":8.94},{"p":"G","s":"SA","x":-25.22,"y":5.94},{"p":"G","s":"SA","x":-21.01,"y":5.83},{"p":"G","s":"SA","x":-18.2,"y":8.3},{"p":"G","s":"SA","x":-18.67,"y":12.09},{"p":"G","s":"SA","x":-20.9,"y":11.68},
{"p":"G","s":"ZJ","x":-26.19,"y":11.93},{"p":"G","s":"ZJ","x":-22.99,"y":8.94},{"p":"G","s":"ZJ","x":-20.18,"y":11.12},{"p":"G","s":"ZJ","x":-20.11,"y":11.4},
{"p":"H","s":"PA","x":-29.04,"y":8.49},{"p":"H","s":"PA","x":-28.29,"y":4.96},{"p":"H","s":"PA","x":-17.38,"y":12.24},{"p":"H","s":"PA","x":-23.96,"y":11.89},
{"p":"H","s":"ZJ","x":-28.83,"y":12.12},{"p":"H","s":"ZJ","x":-28.92,"y":10.84},{"p":"H","s":"ZJ","x":-23.2,"y":9.41},
{"p":"H","s":"SA","x":-20.71,"y":9.62},{"p":"H","s":"SA","x":-15.29,"y":9.53},{"p":"H","s":"SA","x":-16.88,"y":10.14},{"p":"H","s":"SA","x":-20.5,"y":10},
{"p":"I","s":"PA","x":-27.35,"y":5.91},{"p":"I","s":"PA","x":-24.38,"y":5.96},{"p":"I","s":"PA","x":-16.23,"y":9.78},{"p":"I","s":"PA","x":-17.59,"y":9.94},{"p":"I","s":"PA","x":-18.5,"y":9.86},{"p":"I","s":"PA","x":-19.73,"y":9.57},
{"p":"I","s":"SS","x":-22.82,"y":11.05},{"p":"I","s":"SS","x":-19.73,"y":10.66},{"p":"I","s":"SS","x":-16.03,"y":10.5},{"p":"I","s":"SS","x":-15.62,"y":11.32},
{"p":"I","s":"SA","x":-19.94,"y":12.17},{"p":"I","s":"SA","x":-19.4,"y":10.46},{"p":"I","s":"SA","x":-13.56,"y":9.78},{"p":"I","s":"SA","x":-16.23,"y":11.96},
{"p":"I","s":"ZJ","x":-19.73,"y":11.45},{"p":"I","s":"ZJ","x":-18.29,"y":10.78},{"p":"I","s":"ZJ","x":-16.32,"y":10.66},{"p":"I","s":"ZJ","x":-16.44,"y":11.37},
{"p":"J","s":"SS","x":-20.25,"y":11.14},{"p":"J","s":"SS","x":-17.16,"y":11.21},{"p":"J","s":"SS","x":-16.48,"y":12.4},{"p":"J","s":"SS","x":-16.44,"y":12.75},{"p":"J","s":"SS","x":-19.35,"y":13.61},
{"p":"J","s":"SA","x":-19.33,"y":14.33},{"p":"J","s":"SA","x":-18.29,"y":10.56},{"p":"J","s":"SA","x":-17.07,"y":10.49},{"p":"J","s":"SA","x":-17.05,"y":12},
{"p":"J","s":"ZJ","x":-19.33,"y":15.42},{"p":"J","s":"ZJ","x":-20.69,"y":10.99},{"p":"J","s":"ZJ","x":-20.4,"y":10.13},{"p":"J","s":"ZJ","x":-17.92,"y":10.56},{"p":"J","s":"ZJ","x":-18.21,"y":12.29}
],
"ell":[
{"p":"A","s":"PA","x":-11.24,"y":3.72},{"p":"A","s":"PA","x":-13.94,"y":5.12},{"p":"A","s":"PA","x":-20.17,"y":5.44},{"p":"A","s":"PA","x":-26.31,"y":4.49},{"p":"A","s":"PA","x":-28.74,"y":2.84},{"p":"A","s":"PA","x":-26.03,"y":1.44},{"p":"A","s":"PA","x":-19.8,"y":1.12},{"p":"A","s":"PA","x":-13.66,"y":2.07},
{"p":"A","s":"SS","x":-8.34,"y":5.26},{"p":"A","s":"SS","x":-11.33,"y":6.26},{"p":"A","s":"SS","x":-18.29,"y":6.35},{"p":"A","s":"SS","x":-25.18,"y":5.49},{"p":"A","s":"SS","x":-27.92,"y":4.19},{"p":"A","s":"SS","x":-24.93,"y":3.19},{"p":"A","s":"SS","x":-17.97,"y":3.09},{"p":"A","s":"SS","x":-11.08,"y":3.95},
{"p":"A","s":"SA","x":-9.44,"y":5.77},{"p":"A","s":"SA","x":-10.78,"y":6.56},{"p":"A","s":"SA","x":-14.01,"y":6.88},{"p":"A","s":"SA","x":-17.23,"y":6.56},{"p":"A","s":"SA","x":-18.57,"y":5.77},{"p":"A","s":"SA","x":-17.23,"y":4.98},{"p":"A","s":"SA","x":-14.01,"y":4.65},{"p":"A","s":"SA","x":-10.78,"y":4.98},
{"p":"A","s":"ZJ","x":-8.81,"y":5.58},{"p":"A","s":"ZJ","x":-10.64,"y":6.7},{"p":"A","s":"ZJ","x":-15.3,"y":7.42},{"p":"A","s":"ZJ","x":-20.02,"y":7.33},{"p":"A","s":"ZJ","x":-22.09,"y":6.47},{"p":"A","s":"ZJ","x":-20.27,"y":5.35},{"p":"A","s":"ZJ","x":-15.61,"y":4.63},{"p":"A","s":"ZJ","x":-10.89,"y":4.72},
{"p":"B","s":"PA","x":-21.28,"y":9.14},{"p":"B","s":"PA","x":-19.59,"y":7.6},{"p":"B","s":"PA","x":-19.84,"y":5.12},{"p":"B","s":"PA","x":-21.9,"y":3.16},{"p":"B","s":"PA","x":-24.55,"y":2.86},{"p":"B","s":"PA","x":-26.24,"y":4.4},{"p":"B","s":"PA","x":-25.99,"y":6.88},{"p":"B","s":"PA","x":-23.94,"y":8.84},
{"p":"B","s":"SS","x":-12.81,"y":6.63},{"p":"B","s":"SS","x":-13.91,"y":4.85},{"p":"B","s":"SS","x":-16.58,"y":4.94},{"p":"B","s":"SS","x":-19.24,"y":6.85},{"p":"B","s":"SS","x":-20.34,"y":9.47},{"p":"B","s":"SS","x":-19.24,"y":11.25},{"p":"B","s":"SS","x":-16.58,"y":11.16},{"p":"B","s":"SS","x":-13.91,"y":9.24},
{"p":"B","s":"SA","x":-13,"y":8},{"p":"B","s":"SA","x":-14.22,"y":6.51},{"p":"B","s":"SA","x":-17.17,"y":6.51},{"p":"B","s":"SA","x":-20.12,"y":7.95},{"p":"B","s":"SA","x":-21.35,"y":10.05},{"p":"B","s":"SA","x":-20.12,"y":11.53},{"p":"B","s":"SA","x":-17.17,"y":11.53},{"p":"B","s":"SA","x":-14.22,"y":10.07},
{"p":"B","s":"ZJ","x":-12.97,"y":8.12},{"p":"B","s":"ZJ","x":-14.39,"y":6.42},{"p":"B","s":"ZJ","x":-17.83,"y":6.28},{"p":"B","s":"ZJ","x":-21.27,"y":7.77},{"p":"B","s":"ZJ","x":-22.7,"y":10.02},{"p":"B","s":"ZJ","x":-21.27,"y":11.72},{"p":"B","s":"ZJ","x":-17.83,"y":11.86},{"p":"B","s":"ZJ","x":-14.39,"y":10.37},
{"p":"C","s":"SS","x":-9.15,"y":5.86},{"p":"C","s":"SS","x":-10.83,"y":4.7},{"p":"C","s":"SS","x":-14.88,"y":4.08},{"p":"C","s":"SS","x":-18.93,"y":4.38},{"p":"C","s":"SS","x":-20.61,"y":5.42},{"p":"C","s":"SS","x":-18.93,"y":6.59},{"p":"C","s":"SS","x":-14.88,"y":7.2},{"p":"C","s":"SS","x":-10.83,"y":6.9},
{"p":"C","s":"SA","x":-14.48,"y":8.17},{"p":"C","s":"SA","x":-13.45,"y":7.7},{"p":"C","s":"SA","x":-12.52,"y":6.49},{"p":"C","s":"SA","x":-12.24,"y":5.26},{"p":"C","s":"SA","x":-12.77,"y":4.72},{"p":"C","s":"SA","x":-13.8,"y":5.19},{"p":"C","s":"SA","x":-14.73,"y":6.39},{"p":"C","s":"SA","x":-15.01,"y":7.62},
{"p":"C","s":"ZJ","x":-21.64,"y":7.93},{"p":"C","s":"ZJ","x":-21.54,"y":7.22},{"p":"C","s":"ZJ","x":-22.42,"y":5.56},{"p":"C","s":"ZJ","x":-23.76,"y":3.94},{"p":"C","s":"ZJ","x":-24.78,"y":3.3},{"p":"C","s":"ZJ","x":-24.87,"y":4.01},{"p":"C","s":"ZJ","x":-24,"y":5.66},{"p":"C","s":"ZJ","x":-22.66,"y":7.29},
{"p":"C","s":"PA","x":-20.07,"y":7.58},{"p":"C","s":"PA","x":-20.15,"y":7.03},{"p":"C","s":"PA","x":-21.49,"y":5.86},{"p":"C","s":"PA","x":-23.31,"y":4.76},{"p":"C","s":"PA","x":-24.55,"y":4.37},{"p":"C","s":"PA","x":-24.48,"y":4.91},{"p":"C","s":"PA","x":-23.14,"y":6.08},{"p":"C","s":"PA","x":-21.31,"y":7.19},
{"p":"D","s":"SA","x":-17.19,"y":7.72},{"p":"D","s":"SA","x":-17.8,"y":6.83},{"p":"D","s":"SA","x":-19.28,"y":6.22},{"p":"D","s":"SA","x":-20.75,"y":6.25},{"p":"D","s":"SA","x":-21.36,"y":6.91},{"p":"D","s":"SA","x":-20.75,"y":7.8},{"p":"D","s":"SA","x":-19.28,"y":8.41},{"p":"D","s":"SA","x":-17.8,"y":8.38},
{"p":"D","s":"ZJ","x":-10.13,"y":6.58},{"p":"D","s":"ZJ","x":-11.34,"y":6.18},{"p":"D","s":"ZJ","x":-14.26,"y":6.4},{"p":"D","s":"ZJ","x":-17.17,"y":7.12},{"p":"D","s":"ZJ","x":-18.38,"y":7.91},{"p":"D","s":"ZJ","x":-17.17,"y":8.32},{"p":"D","s":"ZJ","x":-14.26,"y":8.09},{"p":"D","s":"ZJ","x":-11.34,"y":7.38},
{"p":"D","s":"SS","x":-17.36,"y":4.52},{"p":"D","s":"SS","x":-17.59,"y":4.86},{"p":"D","s":"SS","x":-18.49,"y":5.63},{"p":"D","s":"SS","x":-19.52,"y":6.38},{"p":"D","s":"SS","x":-20.09,"y":6.68},{"p":"D","s":"SS","x":-19.86,"y":6.34},{"p":"D","s":"SS","x":-18.96,"y":5.57},{"p":"D","s":"SS","x":-17.93,"y":4.82},
{"p":"E","s":"PA","x":-18.05,"y":3.7},{"p":"E","s":"PA","x":-19.1,"y":2.92},{"p":"E","s":"PA","x":-21.62,"y":2.35},{"p":"E","s":"PA","x":-24.13,"y":2.31},{"p":"E","s":"PA","x":-25.18,"y":2.83},{"p":"E","s":"PA","x":-24.13,"y":3.6},{"p":"E","s":"PA","x":-21.62,"y":4.18},{"p":"E","s":"PA","x":-19.1,"y":4.21},
{"p":"E","s":"SS","x":-10.42,"y":6.71},{"p":"E","s":"SS","x":-11.4,"y":5.92},{"p":"E","s":"SS","x":-13.78,"y":5.27},{"p":"E","s":"SS","x":-16.16,"y":5.15},{"p":"E","s":"SS","x":-17.14,"y":5.63},{"p":"E","s":"SS","x":-16.16,"y":6.42},{"p":"E","s":"SS","x":-13.78,"y":7.07},{"p":"E","s":"SS","x":-11.4,"y":7.19},
{"p":"E","s":"SA","x":-6.09,"y":11.17},{"p":"E","s":"SA","x":-6.28,"y":10.02},{"p":"E","s":"SA","x":-8.98,"y":7.65},{"p":"E","s":"SA","x":-12.62,"y":5.46},{"p":"E","s":"SA","x":-15.05,"y":4.72},{"p":"E","s":"SA","x":-14.86,"y":5.88},{"p":"E","s":"SA","x":-12.16,"y":8.25},{"p":"E","s":"SA","x":-8.53,"y":10.44},
{"p":"E","s":"ZJ","x":-11.74,"y":8.25},{"p":"E","s":"ZJ","x":-12.76,"y":7.22},{"p":"E","s":"ZJ","x":-15.2,"y":6.79},{"p":"E","s":"ZJ","x":-17.65,"y":7.22},{"p":"E","s":"ZJ","x":-18.66,"y":8.25},{"p":"E","s":"ZJ","x":-17.65,"y":9.28},{"p":"E","s":"ZJ","x":-15.2,"y":9.71},{"p":"E","s":"ZJ","x":-12.76,"y":9.28},
{"p":"F","s":"ZJ","x":-14.64,"y":6.24},{"p":"F","s":"ZJ","x":-15.47,"y":5.14},{"p":"F","s":"ZJ","x":-17.45,"y":5.88},{"p":"F","s":"ZJ","x":-19.44,"y":8.02},{"p":"F","s":"ZJ","x":-20.26,"y":10.32},{"p":"F","s":"ZJ","x":-19.44,"y":11.42},{"p":"F","s":"ZJ","x":-17.45,"y":10.68},{"p":"F","s":"ZJ","x":-15.47,"y":8.54},
{"p":"F","s":"SA","x":-14.74,"y":6.65},{"p":"F","s":"SA","x":-15.64,"y":5.53},{"p":"F","s":"SA","x":-17.79,"y":5.52},{"p":"F","s":"SA","x":-19.93,"y":6.64},{"p":"F","s":"SA","x":-20.83,"y":8.23},{"p":"F","s":"SA","x":-19.93,"y":9.36},{"p":"F","s":"SA","x":-17.79,"y":9.36},{"p":"F","s":"SA","x":-15.64,"y":8.24},
{"p":"F","s":"SS","x":-12.23,"y":4.32},{"p":"F","s":"SS","x":-13.08,"y":3.54},{"p":"F","s":"SS","x":-15.14,"y":4.1},{"p":"F","s":"SS","x":-17.2,"y":5.68},{"p":"F","s":"SS","x":-18.05,"y":7.34},{"p":"F","s":"SS","x":-17.2,"y":8.12},{"p":"F","s":"SS","x":-15.14,"y":7.55},{"p":"F","s":"SS","x":-13.08,"y":5.98},
{"p":"G","s":"ZJ","x":-18.96,"y":10.78},{"p":"G","s":"ZJ","x":-19.86,"y":9.82},{"p":"G","s":"ZJ","x":-22.05,"y":9.41},{"p":"G","s":"ZJ","x":-24.24,"y":9.82},{"p":"G","s":"ZJ","x":-25.14,"y":10.78},{"p":"G","s":"ZJ","x":-24.24,"y":11.75},{"p":"G","s":"ZJ","x":-22.05,"y":12.15},{"p":"G","s":"ZJ","x":-19.86,"y":11.75},
{"p":"G","s":"SA","x":-17.45,"y":9.81},{"p":"G","s":"SA","x":-18.85,"y":7.81},{"p":"G","s":"SA","x":-22.23,"y":6.57},{"p":"G","s":"SA","x":-25.61,"y":6.8},{"p":"G","s":"SA","x":-27.01,"y":8.38},{"p":"G","s":"SA","x":-25.61,"y":10.38},{"p":"G","s":"SA","x":-22.23,"y":11.62},{"p":"G","s":"SA","x":-18.85,"y":11.39},
{"p":"H","s":"PA","x":-20.71,"y":12.03},{"p":"H","s":"PA","x":-21.08,"y":10.82},{"p":"H","s":"PA","x":-23.8,"y":8.3},{"p":"H","s":"PA","x":-27.27,"y":5.95},{"p":"H","s":"PA","x":-29.46,"y":5.15},{"p":"H","s":"PA","x":-29.09,"y":6.36},{"p":"H","s":"PA","x":-26.37,"y":8.88},{"p":"H","s":"PA","x":-22.9,"y":11.23},
{"p":"H","s":"ZJ","x":-23,"y":9.41},{"p":"H","s":"ZJ","x":-23.52,"y":9.97},{"p":"H","s":"ZJ","x":-25.64,"y":10.92},{"p":"H","s":"ZJ","x":-28.12,"y":11.7},{"p":"H","s":"ZJ","x":-29.5,"y":11.85},{"p":"H","s":"ZJ","x":-28.98,"y":11.29},{"p":"H","s":"ZJ","x":-26.86,"y":10.35},{"p":"H","s":"ZJ","x":-24.38,"y":9.57},
{"p":"H","s":"SA","x":-15.63,"y":9.69},{"p":"H","s":"SA","x":-16.57,"y":9.49},{"p":"H","s":"SA","x":-18.83,"y":9.49},{"p":"H","s":"SA","x":-21.1,"y":9.69},{"p":"H","s":"SA","x":-22.04,"y":9.97},{"p":"H","s":"SA","x":-21.1,"y":10.17},{"p":"H","s":"SA","x":-18.83,"y":10.17},{"p":"H","s":"SA","x":-16.57,"y":9.97},
{"p":"I","s":"PA","x":-15.62,"y":10.82},{"p":"I","s":"PA","x":-16.6,"y":9.98},{"p":"I","s":"PA","x":-19.96,"y":8.27},{"p":"I","s":"PA","x":-23.73,"y":6.69},{"p":"I","s":"PA","x":-25.7,"y":6.17},{"p":"I","s":"PA","x":-24.72,"y":7},{"p":"I","s":"PA","x":-21.35,"y":8.72},{"p":"I","s":"PA","x":-17.58,"y":10.29},
{"p":"I","s":"SS","x":-14.84,"y":11.21},{"p":"I","s":"SS","x":-15.58,"y":10.78},{"p":"I","s":"SS","x":-17.39,"y":10.36},{"p":"I","s":"SS","x":-19.19,"y":10.21},{"p":"I","s":"SS","x":-19.94,"y":10.42},{"p":"I","s":"SS","x":-19.19,"y":10.86},{"p":"I","s":"SS","x":-17.39,"y":11.27},{"p":"I","s":"SS","x":-15.58,"y":11.42},
{"p":"I","s":"SA","x":-14.59,"y":10.81},{"p":"I","s":"SA","x":-15.29,"y":10.23},{"p":"I","s":"SA","x":-16.98,"y":10.13},{"p":"I","s":"SA","x":-18.66,"y":10.58},{"p":"I","s":"SA","x":-19.36,"y":11.3},{"p":"I","s":"SA","x":-18.66,"y":11.88},{"p":"I","s":"SA","x":-16.98,"y":11.98},{"p":"I","s":"SA","x":-15.29,"y":11.53},
{"p":"I","s":"ZJ","x":-15.41,"y":10.78},{"p":"I","s":"ZJ","x":-16.11,"y":10.46},{"p":"I","s":"ZJ","x":-17.8,"y":10.47},{"p":"I","s":"ZJ","x":-19.49,"y":10.8},{"p":"I","s":"ZJ","x":-20.19,"y":11.26},{"p":"I","s":"ZJ","x":-19.49,"y":11.58},{"p":"I","s":"ZJ","x":-17.8,"y":11.58},{"p":"I","s":"ZJ","x":-16.11,"y":11.25},
{"p":"J","s":"ZJ","x":-17.6,"y":11.73},{"p":"J","s":"ZJ","x":-17.97,"y":10.58},{"p":"J","s":"ZJ","x":-18.88,"y":9.94},{"p":"J","s":"ZJ","x":-19.78,"y":10.19},{"p":"J","s":"ZJ","x":-20.15,"y":11.18},{"p":"J","s":"ZJ","x":-19.78,"y":12.33},{"p":"J","s":"ZJ","x":-18.88,"y":12.97},{"p":"J","s":"ZJ","x":-17.97,"y":12.72},
{"p":"J","s":"SS","x":-16.38,"y":12.5},{"p":"J","s":"SS","x":-16.9,"y":11.88},{"p":"J","s":"SS","x":-18.15,"y":11.28},{"p":"J","s":"SS","x":-19.41,"y":11.07},{"p":"J","s":"SS","x":-19.92,"y":11.35},{"p":"J","s":"SS","x":-19.41,"y":11.98},{"p":"J","s":"SS","x":-18.15,"y":12.57},{"p":"J","s":"SS","x":-16.9,"y":12.79},
{"p":"J","s":"SA","x":-16.95,"y":10.52},{"p":"J","s":"SA","x":-16.91,"y":10.94},{"p":"J","s":"SA","x":-17.29,"y":11.77},{"p":"J","s":"SA","x":-17.88,"y":12.54},{"p":"J","s":"SA","x":-18.32,"y":12.79},{"p":"J","s":"SA","x":-18.37,"y":12.37},{"p":"J","s":"SA","x":-17.98,"y":11.54},{"p":"J","s":"SA","x":-17.4,"y":10.77}
]
},
"vconcat":[
{"hconcat":[
{"width":400,"height":231,
 "title":{"text":"A","subtitle":"\u200b\u00a0\u00a0\u00a0\u00a0\u00a0\u00a0\u00a0\u00a0\u00a0Carbon sources","dx":-14,"subtitlePadding":8,"offset":7},
 "encoding":{"x":{"field":"x","type":"quantitative","scale":{"domain":[-36.4,1.4],"nice":false,"zero":false},"axis":{"values":[-35,-30,-25,-20,-15,-10,-5,0],"title":null}},
  "y":{"field":"y","type":"quantitative","scale":{"domain":[-0.6,15.6],"nice":false,"zero":false},"axis":{"values":[0,5,10,15],"title":"δ¹⁵N (‰)","titlePadding":7}}},
 "layer":[
  {"data":{"name":"hul"},"transform":[{"filter":"datum.p==='A'"}],"mark":{"type":"line","interpolate":"linear-closed","strokeDash":[4,3],"strokeWidth":1,"color":"#333333","clip":true},"encoding":{"detail":{"field":"s"},"order":{"value":null}}},
  {"data":{"name":"pts"},"transform":[{"filter":"datum.p==='A'"}],"mark":{"type":"point","filled":false,"size":30,"strokeWidth":1,"opacity":1,"clip":true},"encoding":{"color":{"field":"s","type":"nominal","scale":{"domain":["PA","SS","SA","ZJ"],"range":["#45185e","#2e6b96","#2cb270","#fbbc1b"]},"legend":{"orient":"none","legendX":324,"legendY":-2,"title":null,"symbolType":"M-1,0H-0.18M0.18,0H1M-0.18,0A0.18,0.18,0,1,1,0.18,0A0.18,0.18,0,1,1,-0.18,0","symbolSize":1296,"symbolStrokeWidth":2,"labelFontSize":17,"labelColor":"#231f20","clipHeight":22,"rowPadding":0,"padding":0,"labelOffset":3}}}},
  {"data":{"name":"ell"},"transform":[{"filter":"datum.p==='A'"}],"mark":{"type":"line","interpolate":"cardinal-closed","strokeWidth":2.5,"clip":true},"encoding":{"color":{"field":"s","type":"nominal","scale":{"domain":["PA","SS","SA","ZJ"],"range":["#45185e","#2e6b96","#2cb270","#fbbc1b"]},"legend":null},"order":{"value":null}}}
 ]},
{"width":400,"height":231,
 "title":{"text":"B","subtitle":"\u200b\u00a0\u00a0\u00a0\u00a0\u00a0\u00a0\u00a0\u00a0\u00a0All consumers combined","dx":-13,"subtitlePadding":8,"offset":7},
 "encoding":{"x":{"field":"x","type":"quantitative","scale":{"domain":[-36.4,1.4],"nice":false,"zero":false},"axis":{"values":[-35,-30,-25,-20,-15,-10,-5,0],"title":null}},
  "y":{"field":"y","type":"quantitative","scale":{"domain":[-0.6,15.6],"nice":false,"zero":false},"axis":{"values":[0,5,10,15],"title":null}}},
 "layer":[
  {"data":{"name":"hul"},"transform":[{"filter":"datum.p==='B'"}],"mark":{"type":"line","interpolate":"linear-closed","strokeDash":[4,3],"strokeWidth":1,"color":"#333333","clip":true},"encoding":{"detail":{"field":"s"},"order":{"value":null}}},
  {"data":{"name":"pts"},"transform":[{"filter":"datum.p==='B'"}],"mark":{"type":"point","filled":false,"size":30,"strokeWidth":1,"opacity":1,"clip":true},"encoding":{"color":{"field":"s","type":"nominal","scale":{"domain":["PA","SS","SA","ZJ"],"range":["#45185e","#2e6b96","#2cb270","#fbbc1b"]},"legend":null}}},
  {"data":{"name":"ell"},"transform":[{"filter":"datum.p==='B'"}],"mark":{"type":"line","interpolate":"cardinal-closed","strokeWidth":2.5,"clip":true},"encoding":{"color":{"field":"s","type":"nominal","scale":{"domain":["PA","SS","SA","ZJ"],"range":["#45185e","#2e6b96","#2cb270","#fbbc1b"]},"legend":null},"order":{"value":null}}}
 ]}
],"spacing":39,"bounds":"flush","resolve":{"scale":{"color":"independent"},"legend":{"color":"independent"}}},
{"hconcat":[
{"width":156,"height":233,
 "title":{"text":"C","subtitle":"\u200b\u00a0\u00a0\u00a0\u00a0\u00a0\u00a0\u00a0\u00a0\u00a0\u00a0Zooplankton","dx":-18,"subtitlePadding":2,"offset":8},
 "encoding":{"x":{"field":"x","type":"quantitative","scale":{"domain":[-28.58,-7.76],"nice":false,"zero":false},"axis":{"values":[-25,-20,-15,-10],"title":null}},
  "y":{"field":"y","type":"quantitative","scale":{"domain":[1.72,11.34],"nice":false,"zero":false},"axis":{"values":[2,4,6,8,10],"title":"δ¹⁵N (‰)","titlePadding":10}}},
 "layer":[
  {"data":{"name":"hul"},"transform":[{"filter":"datum.p==='C'"}],"mark":{"type":"line","interpolate":"linear-closed","strokeDash":[4,3],"strokeWidth":1,"color":"#333333","clip":true},"encoding":{"detail":{"field":"s"},"order":{"value":null}}},
  {"data":{"name":"pts"},"transform":[{"filter":"datum.p==='C'"}],"mark":{"type":"point","filled":false,"size":30,"strokeWidth":1,"opacity":1,"clip":true},"encoding":{"color":{"field":"s","type":"nominal","scale":{"domain":["PA","SS","SA","ZJ"],"range":["#45185e","#2e6b96","#2cb270","#fbbc1b"]},"legend":null}}},
  {"data":{"name":"ell"},"transform":[{"filter":"datum.p==='C'"}],"mark":{"type":"line","interpolate":"cardinal-closed","strokeWidth":2.5,"clip":true},"encoding":{"color":{"field":"s","type":"nominal","scale":{"domain":["PA","SS","SA","ZJ"],"range":["#45185e","#2e6b96","#2cb270","#fbbc1b"]},"legend":null},"order":{"value":null}}}
 ]},
{"width":156,"height":233,
 "title":{"text":"D","subtitle":"\u200b\u00a0\u00a0\u00a0\u00a0\u00a0\u00a0\u00a0\u00a0\u00a0\u00a0\u00a0\u00a0Bivalves","dx":-26,"subtitlePadding":2,"offset":8},
 "encoding":{"x":{"field":"x","type":"quantitative","scale":{"domain":[-25.4,-5.5],"nice":false,"zero":false},"axis":{"values":[-25,-20,-15,-10],"title":null}},
  "y":{"field":"y","type":"quantitative","scale":{"domain":[1.76,11.0],"nice":false,"zero":false},"axis":{"values":[2,4,6,8,10],"title":null}}},
 "layer":[
  {"data":{"name":"hul"},"transform":[{"filter":"datum.p==='D'"}],"mark":{"type":"line","interpolate":"linear-closed","strokeDash":[4,3],"strokeWidth":1,"color":"#333333","clip":true},"encoding":{"detail":{"field":"s"},"order":{"value":null}}},
  {"data":{"name":"pts"},"transform":[{"filter":"datum.p==='D'"}],"mark":{"type":"point","filled":false,"size":30,"strokeWidth":1,"opacity":1,"clip":true},"encoding":{"color":{"field":"s","type":"nominal","scale":{"domain":["PA","SS","SA","ZJ"],"range":["#45185e","#2e6b96","#2cb270","#fbbc1b"]},"legend":null}}},
  {"data":{"name":"ell"},"transform":[{"filter":"datum.p==='D'"}],"mark":{"type":"line","interpolate":"cardinal-closed","strokeWidth":2.5,"clip":true},"encoding":{"color":{"field":"s","type":"nominal","scale":{"domain":["PA","SS","SA","ZJ"],"range":["#45185e","#2e6b96","#2cb270","#fbbc1b"]},"legend":null},"order":{"value":null}}}
 ]},
{"width":157,"height":233,
 "title":{"text":"E","subtitle":"\u200b\u00a0\u00a0\u00a0\u00a0\u00a0\u00a0\u00a0\u00a0\u00a0\u00a0\u00a0Gastropods","dx":-25,"subtitlePadding":2,"offset":8},
 "encoding":{"x":{"field":"x","type":"quantitative","scale":{"domain":[-25.84,-1.8],"nice":false,"zero":false},"axis":{"values":[-25,-20,-15,-10,-5],"title":null}},
  "y":{"field":"y","type":"quantitative","scale":{"domain":[-0.38,12.68],"nice":false,"zero":false},"axis":{"values":[0,2,4,6,8,10,12],"title":null}}},
 "layer":[
  {"data":{"name":"hul"},"transform":[{"filter":"datum.p==='E'"}],"mark":{"type":"line","interpolate":"linear-closed","strokeDash":[4,3],"strokeWidth":1,"color":"#333333","clip":true},"encoding":{"detail":{"field":"s"},"order":{"value":null}}},
  {"data":{"name":"pts"},"transform":[{"filter":"datum.p==='E'"}],"mark":{"type":"point","filled":false,"size":30,"strokeWidth":1,"opacity":1,"clip":true},"encoding":{"color":{"field":"s","type":"nominal","scale":{"domain":["PA","SS","SA","ZJ"],"range":["#45185e","#2e6b96","#2cb270","#fbbc1b"]},"legend":null}}},
  {"data":{"name":"ell"},"transform":[{"filter":"datum.p==='E'"}],"mark":{"type":"line","interpolate":"cardinal-closed","strokeWidth":2.5,"clip":true},"encoding":{"color":{"field":"s","type":"nominal","scale":{"domain":["PA","SS","SA","ZJ"],"range":["#45185e","#2e6b96","#2cb270","#fbbc1b"]},"legend":null},"order":{"value":null}}}
 ]},
{"width":158,"height":233,
 "title":{"text":"F","subtitle":"\u200b\u00a0\u00a0\u00a0\u00a0\u00a0\u00a0\u00a0\u00a0\u00a0\u00a0\u00a0\u00a0Crabs","dx":-25,"subtitlePadding":2,"offset":5},
 "encoding":{"x":{"field":"x","type":"quantitative","scale":{"domain":[-24.79,-9.12],"nice":false,"zero":false},"axis":{"values":[-24,-22,-20,-18,-16,-14,-12,-10],"labelExpr":"datum.value % 4 == 0 ? datum.label : ''","title":null}},
  "y":{"field":"y","type":"quantitative","scale":{"domain":[0.45,14.34],"nice":false,"zero":false},"axis":{"values":[2,4,6,8,10,12,14],"title":null}}},
 "layer":[
  {"data":{"name":"hul"},"transform":[{"filter":"datum.p==='F'"}],"mark":{"type":"line","interpolate":"linear-closed","strokeDash":[4,3],"strokeWidth":1,"color":"#333333","clip":true},"encoding":{"detail":{"field":"s"},"order":{"value":null}}},
  {"data":{"name":"pts"},"transform":[{"filter":"datum.p==='F'"}],"mark":{"type":"point","filled":false,"size":30,"strokeWidth":1,"opacity":1,"clip":true},"encoding":{"color":{"field":"s","type":"nominal","scale":{"domain":["PA","SS","SA","ZJ"],"range":["#45185e","#2e6b96","#2cb270","#fbbc1b"]},"legend":null}}},
  {"data":{"name":"ell"},"transform":[{"filter":"datum.p==='F'"}],"mark":{"type":"line","interpolate":"cardinal-closed","strokeWidth":2.5,"clip":true},"encoding":{"color":{"field":"s","type":"nominal","scale":{"domain":["PA","SS","SA","ZJ"],"range":["#45185e","#2e6b96","#2cb270","#fbbc1b"]},"legend":null},"order":{"value":null}}}
 ]}
],"spacing":66,"bounds":"flush","resolve":{"scale":{"color":"independent"},"legend":{"color":"independent"}}},
{"hconcat":[
{"width":156,"height":232,
 "title":{"text":"G","subtitle":"\u200b\u00a0\u00a0\u00a0\u00a0\u00a0\u00a0Carassius auratus","subtitleFontStyle":"italic","dx":-17,"subtitlePadding":5,"offset":11},
 "encoding":{"x":{"field":"x","type":"quantitative","scale":{"domain":[-32.34,-15.61],"nice":false,"zero":false},"axis":{"values":[-30,-25,-20],"title":"δ¹³C (‰)"}},
  "y":{"field":"y","type":"quantitative","scale":{"domain":[3.44,14.56],"nice":false,"zero":false},"axis":{"values":[4,6,8,10,12,14],"title":"δ¹⁵N (‰)","titlePadding":10}}},
 "layer":[
  {"data":{"name":"hul"},"transform":[{"filter":"datum.p==='G'"}],"mark":{"type":"line","interpolate":"linear-closed","strokeDash":[4,3],"strokeWidth":1,"color":"#333333","clip":true},"encoding":{"detail":{"field":"s"},"order":{"value":null}}},
  {"data":{"name":"pts"},"transform":[{"filter":"datum.p==='G'"}],"mark":{"type":"point","filled":false,"size":30,"strokeWidth":1,"opacity":1,"clip":true},"encoding":{"color":{"field":"s","type":"nominal","scale":{"domain":["PA","SS","SA","ZJ"],"range":["#45185e","#2e6b96","#2cb270","#fbbc1b"]},"legend":null}}},
  {"data":{"name":"ell"},"transform":[{"filter":"datum.p==='G'"}],"mark":{"type":"line","interpolate":"cardinal-closed","strokeWidth":2.5,"clip":true},"encoding":{"color":{"field":"s","type":"nominal","scale":{"domain":["PA","SS","SA","ZJ"],"range":["#45185e","#2e6b96","#2cb270","#fbbc1b"]},"legend":null},"order":{"value":null}}}
 ]},
{"width":156,"height":232,
 "title":{"text":"H","subtitle":"\u200b\u00a0\u00a0\u00a0\u00a0Planiliza haematocheila","subtitleFontStyle":"italic","dx":-26,"subtitlePadding":5,"offset":11},
 "encoding":{"x":{"field":"x","type":"quantitative","scale":{"domain":[-31.83,-12.54],"nice":false,"zero":false},"axis":{"values":[-30,-25,-20,-15],"title":"δ¹³C (‰)"}},
  "y":{"field":"y","type":"quantitative","scale":{"domain":[2.55,14.7],"nice":false,"zero":false},"axis":{"values":[4,6,8,10,12,14],"title":null}}},
 "layer":[
  {"data":{"name":"hul"},"transform":[{"filter":"datum.p==='H'"}],"mark":{"type":"line","interpolate":"linear-closed","strokeDash":[4,3],"strokeWidth":1,"color":"#333333","clip":true},"encoding":{"detail":{"field":"s"},"order":{"value":null}}},
  {"data":{"name":"pts"},"transform":[{"filter":"datum.p==='H'"}],"mark":{"type":"point","filled":false,"size":30,"strokeWidth":1,"opacity":1,"clip":true},"encoding":{"color":{"field":"s","type":"nominal","scale":{"domain":["PA","SS","SA","ZJ"],"range":["#45185e","#2e6b96","#2cb270","#fbbc1b"]},"legend":null}}},
  {"data":{"name":"ell"},"transform":[{"filter":"datum.p==='H'"}],"mark":{"type":"line","interpolate":"cardinal-closed","strokeWidth":2.5,"clip":true},"encoding":{"color":{"field":"s","type":"nominal","scale":{"domain":["PA","SS","SA","ZJ"],"range":["#45185e","#2e6b96","#2cb270","#fbbc1b"]},"legend":null},"order":{"value":null}}}
 ]},
{"width":157,"height":232,
 "title":{"text":"I","subtitle":"\u200b\u00a0\u00a0\u00a0\u00a0\u00a0Synechogobius hasta","subtitleFontStyle":"italic","dx":-26,"subtitlePadding":5,"offset":11},
 "encoding":{"x":{"field":"x","type":"quantitative","scale":{"domain":[-30.1,-10.76],"nice":false,"zero":false},"axis":{"values":[-25,-20,-15],"title":"δ¹³C (‰)"}},
  "y":{"field":"y","type":"quantitative","scale":{"domain":[3.49,14.48],"nice":false,"zero":false},"axis":{"values":[4,6,8,10,12,14],"title":null}}},
 "layer":[
  {"data":{"name":"hul"},"transform":[{"filter":"datum.p==='I'"}],"mark":{"type":"line","interpolate":"linear-closed","strokeDash":[4,3],"strokeWidth":1,"color":"#333333","clip":true},"encoding":{"detail":{"field":"s"},"order":{"value":null}}},
  {"data":{"name":"pts"},"transform":[{"filter":"datum.p==='I'"}],"mark":{"type":"point","filled":false,"size":30,"strokeWidth":1,"opacity":1,"clip":true},"encoding":{"color":{"field":"s","type":"nominal","scale":{"domain":["PA","SS","SA","ZJ"],"range":["#45185e","#2e6b96","#2cb270","#fbbc1b"]},"legend":null}}},
  {"data":{"name":"ell"},"transform":[{"filter":"datum.p==='I'"}],"mark":{"type":"line","interpolate":"cardinal-closed","strokeWidth":2.5,"clip":true},"encoding":{"color":{"field":"s","type":"nominal","scale":{"domain":["PA","SS","SA","ZJ"],"range":["#45185e","#2e6b96","#2cb270","#fbbc1b"]},"legend":null},"order":{"value":null}}}
 ]},
{"width":157,"height":232,
 "title":{"text":"J","subtitle":"\u200b\u00a0\u00a0\u00a0Lateolabrax japonicus","subtitleFontStyle":"italic","dx":-25,"subtitlePadding":5,"offset":11},
 "encoding":{"x":{"field":"x","type":"quantitative","scale":{"domain":[-22.99,-14.02],"nice":false,"zero":false},"axis":{"values":[-22,-20,-18,-16],"title":"δ¹³C (‰)"}},
  "y":{"field":"y","type":"quantitative","scale":{"domain":[7.8,17.76],"nice":false,"zero":false},"axis":{"values":[8,10,12,14,16],"title":null}}},
 "layer":[
  {"data":{"name":"hul"},"transform":[{"filter":"datum.p==='J'"}],"mark":{"type":"line","interpolate":"linear-closed","strokeDash":[4,3],"strokeWidth":1,"color":"#333333","clip":true},"encoding":{"detail":{"field":"s"},"order":{"value":null}}},
  {"data":{"name":"pts"},"transform":[{"filter":"datum.p==='J'"}],"mark":{"type":"point","filled":false,"size":30,"strokeWidth":1,"opacity":1,"clip":true},"encoding":{"color":{"field":"s","type":"nominal","scale":{"domain":["PA","SS","SA","ZJ"],"range":["#45185e","#2e6b96","#2cb270","#fbbc1b"]},"legend":null}}},
  {"data":{"name":"ell"},"transform":[{"filter":"datum.p==='J'"}],"mark":{"type":"line","interpolate":"cardinal-closed","strokeWidth":2.5,"clip":true},"encoding":{"color":{"field":"s","type":"nominal","scale":{"domain":["PA","SS","SA","ZJ"],"range":["#45185e","#2e6b96","#2cb270","#fbbc1b"]},"legend":null},"order":{"value":null}}}
 ]}
],"spacing":66,"bounds":"flush","resolve":{"scale":{"color":"independent"},"legend":{"color":"independent"}}}
],
"spacing":5.5,
"resolve":{"scale":{"color":"independent"},"legend":{"color":"independent"}},
"config":{
 "font":"Liberation Sans",
 "view":{"stroke":"#231f20","strokeWidth":1.2},
 "axis":{"domain":false,"grid":false,"tickColor":"#231f20","tickSize":8,"tickWidth":1,"labelFontSize":17,"labelColor":"#231f20","labelPadding":5,"titleFontSize":17,"titleFontWeight":"normal","titleColor":"#231f20","labelOverlap":false,"labelFlush":false},
 "axisX":{"titlePadding":18},
 "title":{"anchor":"start","frame":"group","fontSize":16,"fontWeight":"bold","color":"#231f20","subtitleFontSize":17,"subtitleColor":"#231f20","subtitleFont":"Liberation Sans"}
}
}
